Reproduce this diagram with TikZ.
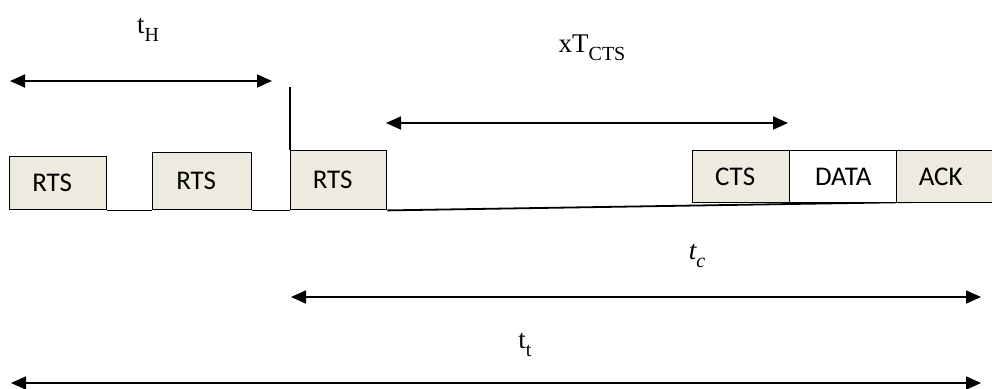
\documentclass[tikz,border=0pt]{standalone}
\usepackage{fontspec}
\newfontfamily\boxfont{Carlito}
\newfontfamily\lblfont{Liberation Serif}
\usetikzlibrary{arrows.meta}
\definecolor{boxfill}{RGB}{237,235,224}
\newcommand{\lsub}[1]{\raisebox{-0.3em}{\fontsize{20}{22}\selectfont #1}}
\tikzset{
  pkt/.style={draw=black, line width=1.4pt, fill=boxfill, inner sep=0pt,
    font=\boxfont\fontsize{27}{32}\selectfont, anchor=north west},
  span/.style={line width=1.8pt, {Triangle[length=15pt,width=13pt]}-{Triangle[length=15pt,width=13pt]}},
  lbl/.style={font=\lblfont\fontsize{27}{30}\selectfont, inner sep=0pt},
  wire/.style={line width=1.8pt}
}
\begin{document}
\begin{tikzpicture}[x=1pt,y=-1pt]
\useasboundingbox (0,0) rectangle (992,388);
\clip (0,0) rectangle (992,388);
% packets
\node[pkt, minimum width=97pt, minimum height=53pt] (r1) at (9,156) {\kern-12pt RTS};
\node[pkt, minimum width=99pt, minimum height=57pt] (r2) at (152,152) {\kern-12pt RTS};
\node[pkt, minimum width=96pt, minimum height=59pt] (r3) at (290,150) {\kern-12pt RTS};
\coordinate (lineend) at (980,201);
% baseline
\draw[wire] (r1.south east) -- (r2.south west);
\draw[wire] (r2.south east) -- (r3.south west);
\draw[wire] (r3.south east) -- (lineend);
\node[pkt, minimum width=97pt, minimum height=52pt] (cts) at (692,150) {\kern-12pt CTS};
\node[pkt, fill=white, minimum width=107pt, minimum height=52pt] (data) at (789,150) {DATA};
\node[pkt, minimum width=100pt, minimum height=52pt] (ack) at (896,150) {\kern-12pt ACK};
% vertical marker
\coordinate (vtop) at (290,87);
\draw[line width=1.4pt] (r3.north west) -- (vtop);
% spans
\coordinate (hA) at (10,81);  \coordinate (hB) at (272,81);
\coordinate (xA) at (386,123); \coordinate (xB) at (788,123);
\coordinate (cA) at (291,297); \coordinate (cB) at (981,297);
\coordinate (tA) at (11,383);  \coordinate (tB) at (981,383);
\draw[span] (hA) -- (hB);
\draw[span] (xA) -- (xB);
\draw[span] (cA) -- (cB);
\draw[span] (tA) -- (tB);
% labels
\node[lbl] (lH) at (148,30) {t\lsub{H}};
\node[lbl] (lX) at (592,48) {xT\lsub{CTS}};
\node[lbl] (lC) at (697,256) {\itshape t\lsub{\itshape c}};
\node[lbl] (lT) at (525,345) {t\lsub{t}};
\end{tikzpicture}
\end{document}
